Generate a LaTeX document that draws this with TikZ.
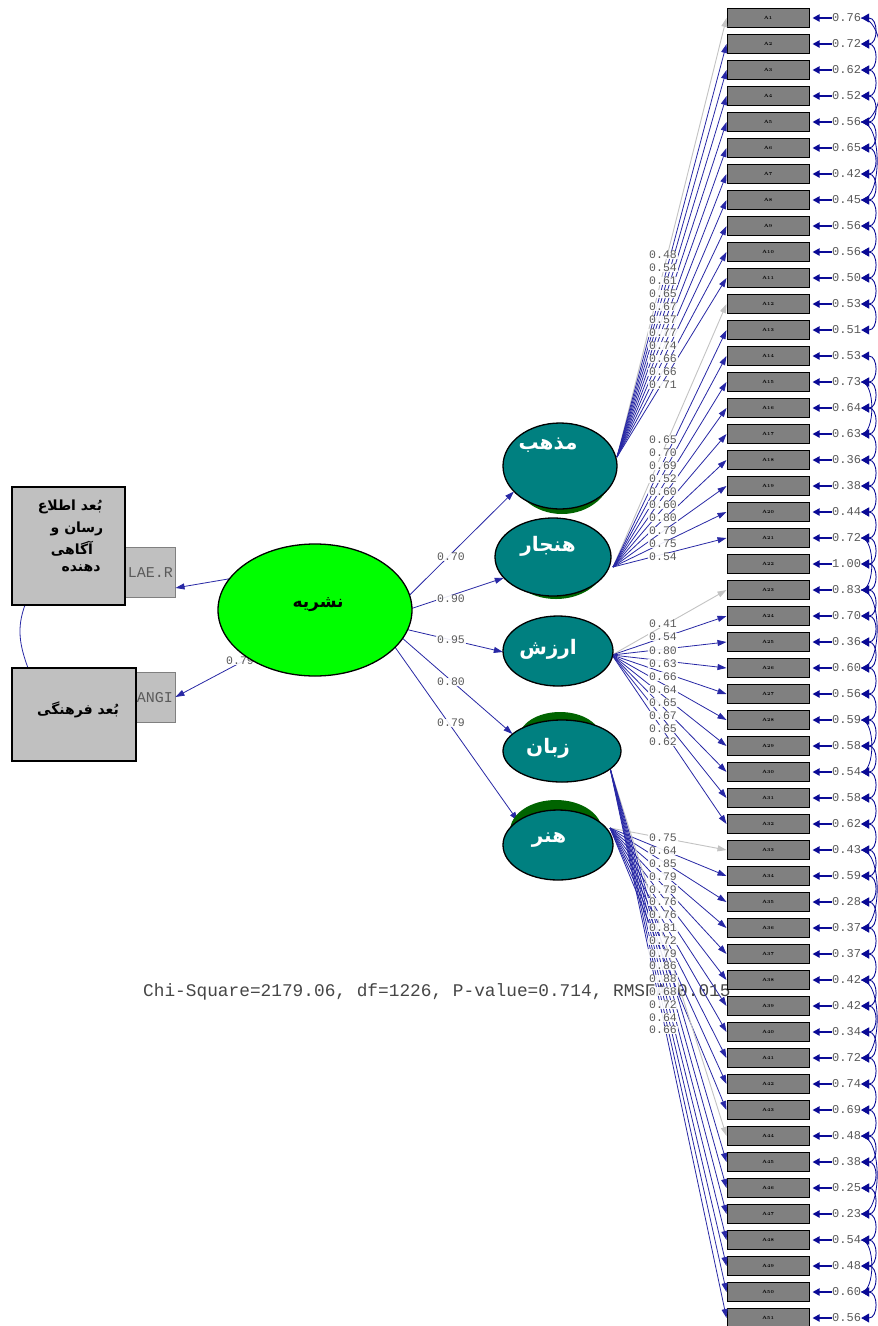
\documentclass[tikz,border=0pt]{standalone}
\usepackage{fontspec}
\setmonofont{Liberation Mono}
\newfontfamily\arabicfont[Script=Arabic]{DejaVu Sans}
\TeXXeTstate=1
\usetikzlibrary{arrows.meta,shapes.geometric}
\definecolor{navyl}{RGB}{40,40,165}
\definecolor{navyh}{RGB}{10,10,150}
\definecolor{lgray}{RGB}{195,195,195}
\definecolor{labgray}{RGB}{90,90,90}
\definecolor{chigray}{RGB}{70,70,70}
\definecolor{boxgray}{RGB}{128,128,128}
\definecolor{silv}{RGB}{192,192,192}
\definecolor{tealc}{RGB}{0,128,128}
\definecolor{dkgreen}{RGB}{0,100,0}
\definecolor{limec}{RGB}{0,255,0}
\begin{document}
\begin{tikzpicture}[x=1pt,y=-1pt,
  obs/.style={draw=black, fill=boxgray, line width=1pt, minimum width=82pt, minimum height=19pt, inner sep=0pt, font=\bfseries\fontsize{4.5}{4.5}\selectfont},
  errl/.style={anchor=west, inner sep=0pt, text=labgray, font=\ttfamily\fontsize{12}{12}\selectfont},
  errarr/.style={draw=navyh, line width=1.8pt, -{Triangle[length=7pt,width=7pt]}, shorten >=3pt},
  load/.style={draw=navyl, line width=0.8pt, -{Triangle[length=9pt,width=6pt]}},
  loadg/.style={draw=lgray, line width=0.9pt, -{Triangle[length=9pt,width=6pt]}},
  cov/.style={draw=navyh, line width=0.9pt, {Triangle[length=8pt,width=9pt]}-{Triangle[length=8pt,width=9pt]}},
  coef/.style={fill=white, fill opacity=0.9, text opacity=1, inner ysep=0.4pt, inner xsep=1.5pt, text=labgray, font=\ttfamily\fontsize{11.5}{11.5}\selectfont},
  latent/.style={ellipse, draw=black, line width=1.3pt, fill=tealc, inner sep=0pt},
  shade/.style={ellipse, fill=dkgreen, inner sep=0pt},
  ftext/.style={text=white, inner sep=0pt, font=\arabicfont\bfseries\fontsize{20}{22}\selectfont},
  btext/.style={text=black, inner sep=0pt, font=\arabicfont\bfseries\fontsize{14}{16}\selectfont},
  bigbox/.style={draw=black, fill=silv, line width=1.5pt, inner sep=0pt},
  smallbox/.style={draw=boxgray, fill=silv, line width=1pt, inner sep=0pt},
  smalltext/.style={anchor=east, inner sep=0pt, text=boxgray!70!black, font=\ttfamily\fontsize{15}{15}\selectfont}
]
\useasboundingbox[fill=white] (0,0) rectangle (878,1326);

% fit statistics
\node[anchor=west, inner sep=0pt, text=chigray, font=\ttfamily\fontsize{17.8}{18}\selectfont] (chi) at (143,992) {Chi-Square=2179.06, df=1226, P-value=0.714, RMSEA=0.015};

% ---------------- left part
\node[smallbox, minimum width=50pt, minimum height=50pt] (laer) at (150,572) {};
\node[smalltext] (laert) at (173,573) {LAE.R};
\node[smallbox, minimum width=40pt, minimum height=50pt] (angi) at (155,697) {};
\node[smalltext] (angit) at (173,698) {ANGI};
\coordinate (cv1) at (25,605);
\coordinate (cv2) at (28,668);
\draw[navyl, line width=0.8pt] (cv1) to[out=-110,in=110] (cv2);
\node[bigbox, minimum width=113pt, minimum height=118pt] (b1) at (68.5,546) {};
\node[bigbox, minimum width=124pt, minimum height=93pt] (b2) at (74,714.5) {};
\node[btext] (b1l1) at (70,507) {\beginR بُعد اطلاع\endR};
\node[btext] (b1l2) at (77,529) {\beginR رسان و\endR};
\node[btext] (b1l3) at (72,549) {\beginR آگاهی\endR};
\node[btext] (b1l4) at (81,568) {\beginR دهنده\endR};
\node[btext] (b2l1) at (78,710) {\beginR بُعد فرهنگی\endR};

% ---------------- latent variables (placed first as coordinates for lines)
\node[ellipse, minimum width=194pt, minimum height=132pt, inner sep=0pt] (nash) at (315,610) {};
\node[ellipse, minimum width=114pt, minimum height=86pt, inner sep=0pt] (maz) at (560,466) {};
\node[ellipse, minimum width=116pt, minimum height=78pt, inner sep=0pt] (han) at (553,557) {};
\node[ellipse, minimum width=110pt, minimum height=70pt, inner sep=0pt] (arz) at (558,651) {};
\node[ellipse, minimum width=118pt, minimum height=62pt, inner sep=0pt] (zab) at (562,751) {};
\node[ellipse, minimum width=110pt, minimum height=70pt, inner sep=0pt] (hon) at (558,845) {};

% arrows to the two left indicators
\draw[load] (nash.160) -- (laer.-32);
\draw[load] (nash.216) -- (angi.east);
\node[coef] (c079l) at (240,661) {0.79};

% structural paths
\draw[load] (nash.9) -- (maz.209);
\draw[load] (nash.1) -- (han.203);
\draw[load] (nash.348) -- (arz.181);
\draw[load] (nash.342) -- (zab.161);
\draw[load] (nash.335) -- (hon.149);

% ---------------- observed variables, errors
\foreach \e [count=\i] in {0.76,0.72,0.62,0.52,0.56,0.65,0.42,0.45,0.56,0.56,0.50,0.53,0.51,0.53,0.73,0.64,0.63,0.36,0.38,0.44,0.72,1.00,0.83,0.70,0.36,0.60,0.56,0.59,0.58,0.54,0.58,0.62,0.43,0.59,0.28,0.37,0.37,0.42,0.42,0.34,0.72,0.74,0.69,0.48,0.38,0.25,0.23,0.54,0.48,0.60,0.56} {
  \pgfmathsetmacro{\yy}{18+26*(\i-1)}
  \node[obs] (A\i) at (768,\yy) {A\i};
  \node[errl] (e\i) at (832,\yy) {\e};
  \draw[errarr] (e\i.west) -- (A\i.east);
}

% fan origins
\coordinate (om) at (617,457);
\coordinate (oh) at (613,567);
\coordinate (oa) at (612,655);
\coordinate (oz) at (610,768);
\coordinate (on) at (610,828);

% loadings
\draw[loadg] (om) -- (A1.west);
\foreach \i in {2,...,11} \draw[load] (om) -- (A\i.west);
\draw[loadg] (oh) -- (A12.west);
\foreach \i in {13,...,21} \draw[load] (oh) -- (A\i.west);
\draw[loadg] (oa) -- (A23.west);
\foreach \i in {24,...,32} \draw[load] (oa) -- (A\i.west);
\draw[loadg] (on) -- (A33.west);
\foreach \i in {34,...,43} \draw[load] (on) -- (A\i.west);
\draw[loadg] (oz) -- (A44.west);
\foreach \i in {45,...,51} \draw[load] (oz) -- (A\i.west);

% shadows and ellipses
\node[shade, minimum width=100pt, minimum height=86pt] (mazs) at (562,471) {};
\node[shade, minimum width=100pt, minimum height=76pt] (hans) at (556,561) {};
\node[shade, minimum width=82pt, minimum height=52pt] (zabs) at (560,738) {};
\node[shade, minimum width=92pt, minimum height=62pt] (hons) at (556,831) {};
\node[ellipse, draw=black, line width=1.3pt, fill=limec, minimum width=194pt, minimum height=132pt, inner sep=0pt] (nashf) at (315,610) {};
\node[latent, minimum width=114pt, minimum height=86pt] (mazf) at (560,466) {};
\node[latent, minimum width=116pt, minimum height=78pt] (hanf) at (553,557) {};
\node[latent, minimum width=110pt, minimum height=70pt] (arzf) at (558,651) {};
\node[latent, minimum width=118pt, minimum height=62pt] (zabf) at (562,751) {};
\node[latent, minimum width=110pt, minimum height=70pt] (honf) at (558,845) {};
\node[btext, font=\arabicfont\bfseries\fontsize{17}{19}\selectfont] (tnash) at (318,605) {\beginR نشریه\endR};
\node[ftext] (tmaz) at (548,445) {\beginR مذهب\endR};
\node[ftext] (than) at (548,546) {\beginR هنجار\endR};
\node[ftext] (tarz) at (548,649) {\beginR ارزش\endR};
\node[ftext] (tzab) at (548,748) {\beginR زبان\endR};
\node[ftext] (thon) at (549,840) {\beginR هنر\endR};

% structural coefficients
\node[coef] (s1) at (451,557) {0.70};
\node[coef] (s2) at (451,599) {0.90};
\node[coef] (s3) at (451,640) {0.95};
\node[coef] (s4) at (451,682) {0.80};
\node[coef] (s5) at (451,723) {0.79};

% loading coefficients
\foreach \v [count=\k] in {0.48,0.54,0.61,0.65,0.67,0.57,0.77,0.74,0.66,0.66,0.71}
  \node[coef] (lm\k) at (663,{255+13*(\k-1)}) {\v};
\foreach \v [count=\k] in {0.65,0.70,0.69,0.52,0.60,0.60,0.80,0.79,0.75,0.54}
  \node[coef] (lh\k) at (663,{440+13*(\k-1)}) {\v};
\foreach \v [count=\k] in {0.41,0.54,0.80,0.63,0.66,0.64,0.65,0.67,0.65,0.62}
  \node[coef] (la\k) at (663,{624+13.1*(\k-1)}) {\v};
\foreach \v [count=\k] in {0.75,0.64,0.85,0.79,0.79,0.76,0.76,0.81,0.72,0.79,0.86,0.88,0.68,0.72,0.64,0.66}
  \node[coef] (ln\k) at (663,{838+12.8*(\k-1)}) {\v};

% error covariances
\foreach \i in {1,...,12} {
  \pgfmathtruncatemacro{\j}{\i+1}
  \draw[cov] (e\i.east) to[out=0,in=0,looseness=1.7] (e\j.east);
}
\foreach \i in {14,...,50} {
  \pgfmathtruncatemacro{\j}{\i+1}
  \draw[cov] (e\i.east) to[out=0,in=0,looseness=1.7] (e\j.east);
}
\foreach \a/\b in {1/5,5/8,21/23,23/26,33/36,38/41,44/47,15/17,28/30,48/50} {
  \draw[navyh, line width=0.8pt] (e\a.east) to[out=0,in=0,looseness=0.7] (e\b.east);
}
\end{tikzpicture}
\end{document}
